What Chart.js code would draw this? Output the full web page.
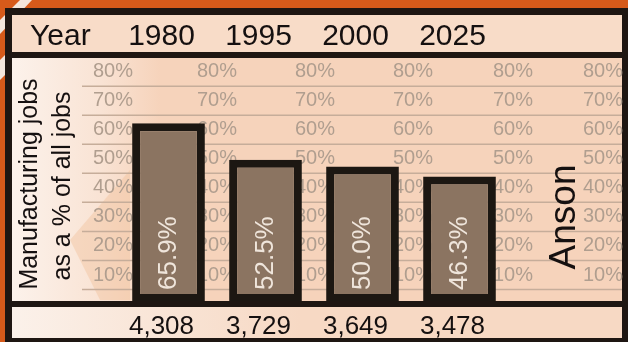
<!DOCTYPE html>
<html>
<head>
<meta charset="utf-8">
<script src="https://cdn.jsdelivr.net/npm/chart.js@4.4.0/dist/chart.umd.min.js"></script>
<style>
html,body{margin:0;padding:0;background:#d65a1a;}
canvas{display:block;}
</style>
</head>
<body>
<canvas id="grafico" width="628" height="342"></canvas>
<script>
// data
var years = ["1980", "1995", "2000", "2025"];
var manufPct = [65.9, 52.5, 50.0, 46.3];
var totalJobs = ["4,308", "3,729", "3,649", "3,478"];
var gridPct = [10, 20, 30, 40, 50, 60, 70, 80];

var fnt = '"Liberation Sans", Arial, sans-serif';

// background: orange page, frame, header, panel, bottom band
var fundo = {
  id: 'fundo',
  beforeDraw: function(chart) {
    var c = chart.ctx;
    var W = chart.width, H = chart.height;
    c.save();
    c.fillStyle = '#d65a1a';
    c.fillRect(0, 0, W, H);
    // white stripe at top left
    c.fillStyle = '#f3e6dc';
    c.beginPath();
    c.moveTo(0, 20); c.lineTo(20, 0); c.lineTo(32, 0); c.lineTo(0, 34);
    c.closePath(); c.fill();
    c.beginPath();
    c.moveTo(0, 60); c.lineTo(8, 52); c.lineTo(8, 72); c.lineTo(0, 80);
    c.closePath(); c.fill();
    // frame
    c.fillStyle = '#1e1612';
    c.fillRect(5, 8, 623, 334);
    // header
    c.fillStyle = '#f8dcc8';
    c.fillRect(12, 15, 610, 37);
    // panel
    var g = c.createLinearGradient(12, 0, 160, 0);
    g.addColorStop(0, '#fcf2eb');
    g.addColorStop(0.6, '#f9e3d4');
    g.addColorStop(1, '#f6d3bb');
    c.fillStyle = g;
    c.fillRect(12, 58, 610, 243);
    // peach shape in the left column
    c.fillStyle = 'rgba(240,190,150,0.4)';
    c.beginPath();
    c.moveTo(100, 300); c.lineTo(70, 240); c.lineTo(130, 170); c.lineTo(130, 300);
    c.closePath(); c.fill();
    // bottom band
    var g2 = c.createLinearGradient(12, 0, 300, 0);
    g2.addColorStop(0, '#fbf1ea');
    g2.addColorStop(1, '#f7d9c4');
    c.fillStyle = g2;
    c.fillRect(12, 307, 610, 31);

    // decorative percent rows
    var y2 = chart.scales.y2;
    c.strokeStyle = '#c6ad9a';
    c.lineWidth = 1.5;
    gridPct.forEach(function(v) {
      var yy = y2.getPixelForValue(v - 5);
      c.beginPath(); c.moveTo(82, yy); c.lineTo(622, yy); c.stroke();
    });
    var cols = [93, 197, 295, 393, 493, 583];
    c.fillStyle = '#b09e8f';
    c.font = '20px ' + fnt;
    c.textBaseline = 'middle';
    c.textAlign = 'left';
    cols.forEach(function(x) {
      gridPct.forEach(function(v) {
        c.fillText(v + '%', x, y2.getPixelForValue(v));
      });
    });

    // header + footer text
    var xs = chart.scales.x;
    c.fillStyle = '#151010';
    c.textBaseline = 'alphabetic';
    c.font = '30px ' + fnt;
    c.fillText('Year', 30, 45);
    c.textAlign = 'center';
    years.forEach(function(t, i) {
      c.fillText(t, xs.getPixelForValue(i) - 7, 45);
    });
    c.font = '26px ' + fnt;
    totalJobs.forEach(function(t, i) {
      c.fillText(t, xs.getPixelForValue(i) - 7, 334);
    });

    // axis title, rotated
    c.font = '25px ' + fnt;
    c.textBaseline = 'middle';
    c.save(); c.translate(30, 184); c.rotate(-Math.PI / 2);
    c.fillText('Manufacturing jobs', 0, 0); c.restore();
    c.save(); c.translate(63, 186); c.rotate(-Math.PI / 2);
    c.fillText('as a % of all jobs', 0, 0); c.restore();
    c.restore();
  },
  afterDatasetsDraw: function(chart) {
    var c = chart.ctx;
    var xs = chart.scales.x, ys = chart.scales.y;
    c.save();
    // separator under the panel
    c.fillStyle = '#1e1612';
    c.fillRect(12, 301, 610, 6);
    // value labels inside bars
    c.fillStyle = '#efe5db';
    c.font = '26px ' + fnt;
    c.textBaseline = 'middle';
    c.textAlign = 'left';
    manufPct.forEach(function(v, i) {
      c.save();
      c.translate(xs.getPixelForValue(i), ys.getPixelForValue(0) - 12);
      c.rotate(-Math.PI / 2);
      c.fillText(v.toFixed(1) + '%', 0, 0);
      c.restore();
    });
    // place name
    c.fillStyle = '#151010';
    c.font = '37px ' + fnt;
    c.textAlign = 'center';
    c.translate(565, 217);
    c.rotate(-Math.PI / 2);
    c.fillText('Anson', 0, 0);
    c.restore();
  }
};

var ctx = document.getElementById('grafico');
var chartGraph = new Chart(ctx, {
  type: 'bar',
  data: {
    labels: years,
    datasets: [{
      data: manufPct,
      backgroundColor: '#8b7461',
      borderColor: '#1c1712',
      borderWidth: 8,
      borderSkipped: false,
      barPercentage: 0.75,
      categoryPercentage: 1
    }]
  },
  options: {
    responsive: false,
    animation: false,
    devicePixelRatio: 1,
    layout: { padding: { top: 58, bottom: 40, left: 120, right: 120 } },
    plugins: { legend: { display: false }, tooltip: { enabled: false } },
    scales: {
      x: { display: false },
      y: { display: false, min: 0, max: 90 },
      y2: { display: false, min: 0.7, max: 84.7 }
    }
  },
  plugins: [fundo]
});
</script>
</body>
</html>
